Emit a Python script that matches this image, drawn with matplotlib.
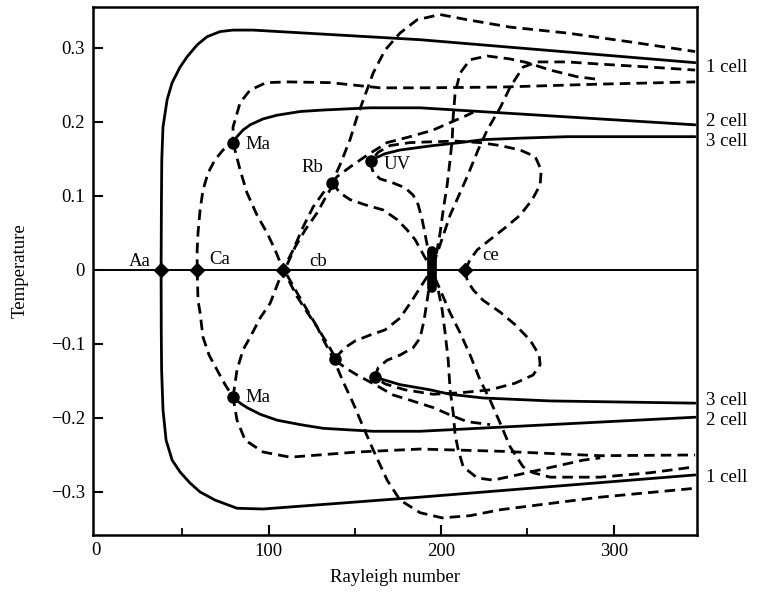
import matplotlib
matplotlib.use("Agg")
import matplotlib.pyplot as plt

plt.rcParams['font.family'] = ['Liberation Serif', 'DejaVu Serif']

# ---- solid branches (stable) ----
s1_top_x = [37.7, 37.9, 38.1, 38.8, 41.2, 44.1, 48.7, 52.8, 58.6, 64.3, 71.9, 79.4, 91.0, 187.8, 347.2]
s1_top_y = [0, 0.095, 0.149, 0.193, 0.230, 0.253, 0.274, 0.288, 0.304, 0.315, 0.322, 0.324, 0.324, 0.311, 0.280]
s1_bot_x = [37.7, 37.8, 38.0, 38.8, 40.6, 44.1, 48.7, 54.5, 60.3, 69.0, 81.7, 96.8, 187.8, 347.2]
s1_bot_y = [0, -0.081, -0.135, -0.189, -0.230, -0.257, -0.273, -0.288, -0.300, -0.311, -0.322, -0.323, -0.307, -0.277]

s2_top_x = [79.4, 81.7, 85.2, 89.3, 96.8, 104.9, 118.3, 131.6, 158.8, 187.8, 347.2]
s2_top_y = [0.172, 0.180, 0.189, 0.196, 0.204, 0.209, 0.214, 0.216, 0.219, 0.219, 0.196]
s2_bot_x = [79.4, 83.5, 87.5, 95.1, 104.9, 118.3, 131.6, 160.6, 187.8, 347.2]
s2_bot_y = [-0.172, -0.180, -0.186, -0.195, -0.203, -0.209, -0.214, -0.218, -0.218, -0.199]

s3_top_x = [160.0, 167.5, 176.2, 195.4, 211.0, 224.3, 245.8, 273.0, 347.2]
s3_top_y = [0.149, 0.157, 0.162, 0.168, 0.172, 0.176, 0.178, 0.180, 0.180]
s3_bot_x = [161.7, 170.4, 176.2, 193.6, 205.2, 224.3, 263.2, 347.2]
s3_bot_y = [-0.145, -0.151, -0.155, -0.162, -0.168, -0.173, -0.177, -0.180]

# ---- dashed branches (unstable) ----
d1_top_x = [58.6, 58.6, 59.1, 60.3, 62.0, 64.9, 69.0, 73.6, 79.4, 79.4, 83.5, 89.3, 98.6, 110.7, 135.7, 164.6, 187.8, 234.2, 292.2, 347.2]
d1_top_y = [0, 0.027, 0.050, 0.081, 0.108, 0.131, 0.149, 0.162, 0.172, 0.193, 0.226, 0.243, 0.253, 0.254, 0.253, 0.246, 0.246, 0.247, 0.251, 0.254]
d1_bot_x = [58.6, 59.1, 60.3, 62.0, 65.5, 70.1, 74.8, 79.4, 81.7, 86.4, 96.8, 112.5, 151.3, 187.8, 234.2, 292.2, 347.2]
d1_bot_y = [0, -0.041, -0.058, -0.091, -0.115, -0.135, -0.155, -0.172, -0.203, -0.230, -0.246, -0.253, -0.246, -0.242, -0.245, -0.251, -0.250]

d2_x = [79.4, 83.5, 87.5, 93.3, 99.1, 103.8, 108.4, 112.5, 116.5, 122.3, 128.1, 132.8, 137.4, 143.2, 149.0, 154.8, 160.6, 168.7, 176.2, 187.8, 200.6, 216.8, 234.2, 292.2, 347.2]
d2_y = [0.172, 0.135, 0.104, 0.074, 0.050, 0.027, 0, -0.018, -0.036, -0.057, -0.077, -0.099, -0.119, -0.151, -0.180, -0.212, -0.243, -0.284, -0.311, -0.328, -0.335, -0.332, -0.324, -0.307, -0.295]
d3_x = [79.4, 81.7, 85.2, 89.3, 95.1, 100.9, 108.4, 114.2, 120.0, 125.8, 131.6, 136.8, 141.4, 147.2, 151.3, 155.9, 160.6, 167.5, 176.2, 186.1, 199.4, 215.1, 240.0, 273.0, 309.6, 347.2]
d3_y = [-0.172, -0.135, -0.108, -0.091, -0.065, -0.045, 0, 0.027, 0.058, 0.085, 0.104, 0.118, 0.142, 0.176, 0.207, 0.236, 0.266, 0.297, 0.320, 0.338, 0.345, 0.338, 0.328, 0.320, 0.308, 0.295]

cb_rb_top_x = [110.7, 115.4, 121.2, 128.1, 132.8, 137.4]
cb_rb_top_y = [0.007, 0.031, 0.054, 0.077, 0.097, 0.115]
cb_rb_bot_x = [110.7, 116.5, 122.3, 128.1, 133.9, 138.6]
cb_rb_bot_y = [-0.007, -0.031, -0.054, -0.077, -0.099, -0.118]

rb_c_top_x = [136.8, 141.4, 147.2, 155.9, 166.4, 174.5, 180.3, 184.9, 188.9, 192.5, 194.8]
rb_c_top_y = [0.118, 0.104, 0.095, 0.088, 0.081, 0.068, 0.054, 0.041, 0.024, 0.009, 0]
rb_c_bot_x = [138.6, 144.3, 150.1, 158.8, 167.5, 176.2, 183.2, 188.9, 193.6]
rb_c_bot_y = [-0.119, -0.105, -0.096, -0.088, -0.081, -0.065, -0.041, -0.020, -0.003]

uv_c_top_x = [158.8, 160.6, 164.6, 171.6, 179.1, 183.8, 186.7, 189.0, 191.3, 193.0, 194.2]
uv_c_top_y = [0.146, 0.132, 0.123, 0.118, 0.111, 0.101, 0.088, 0.068, 0.041, 0.020, 0.003]
uv_c_bot_x = [161.7, 163.5, 168.7, 176.2, 183.8, 187.8, 190.1, 191.9, 193.6]
uv_c_bot_y = [-0.145, -0.132, -0.122, -0.115, -0.105, -0.092, -0.068, -0.041, -0.014]

rb_s2_top_x = [136.8, 139.7, 147.2, 157.1, 168.7, 182.0, 195.4, 205.2, 215.1, 218.6]
rb_s2_top_y = [0.118, 0.126, 0.139, 0.155, 0.172, 0.180, 0.189, 0.199, 0.209, 0.213]
rb_s2_bot_x = [138.6, 144.3, 151.3, 161.7, 172.2, 182.0, 195.4, 205.2, 215.1, 228.4]
rb_s2_bot_y = [-0.122, -0.132, -0.142, -0.155, -0.169, -0.176, -0.186, -0.196, -0.205, -0.209]

ce_top_x = [213.9, 216.8, 220.9, 228.4, 237.1, 245.8, 252.8, 257.4, 258.0, 254.5, 245.8, 234.2, 222.6, 208.1, 193.6, 182.0, 170.4, 163.5, 160.0]
ce_top_y = [0, 0.014, 0.027, 0.041, 0.057, 0.074, 0.095, 0.115, 0.135, 0.153, 0.162, 0.168, 0.172, 0.174, 0.173, 0.172, 0.168, 0.159, 0.149]
ce_bot_x = [213.9, 215.1, 218.6, 224.3, 234.2, 242.9, 251.6, 256.8, 257.4, 253.3, 242.9, 228.4, 211.0, 195.4, 179.1, 167.5, 161.7]
ce_bot_y = [0, -0.014, -0.027, -0.041, -0.057, -0.074, -0.095, -0.115, -0.128, -0.142, -0.153, -0.162, -0.166, -0.168, -0.162, -0.154, -0.145]

l1_top_x = [194.8, 197.7, 199.4, 201.2, 203.5, 205.2, 206.4, 207.0, 208.1, 211.0, 216.8, 226.7, 240.0, 249.9, 263.2, 278.8, 292.2]
l1_top_y = [0, 0.027, 0.050, 0.081, 0.115, 0.149, 0.176, 0.207, 0.239, 0.266, 0.284, 0.289, 0.285, 0.280, 0.270, 0.261, 0.257]
l1_bot_x = [195.4, 197.7, 200.6, 202.3, 204.1, 205.2, 207.0, 208.1, 209.9, 212.8, 220.9, 230.1, 244.1, 257.4, 282.3, 292.2]
l1_bot_y = [-0.007, -0.020, -0.054, -0.085, -0.122, -0.162, -0.193, -0.223, -0.243, -0.266, -0.281, -0.284, -0.277, -0.270, -0.257, -0.254]

l2_top_x = [195.4, 199.4, 205.2, 215.1, 221.4, 226.7, 234.2, 240.0, 247.5, 255.7, 273.0, 292.2, 321.2, 347.2]
l2_top_y = [0.007, 0.034, 0.074, 0.126, 0.162, 0.189, 0.219, 0.247, 0.274, 0.281, 0.281, 0.278, 0.274, 0.270]
l2_bot_x = [196.5, 205.2, 211.0, 216.8, 222.6, 228.4, 234.2, 240.0, 247.5, 253.3, 263.2, 292.2, 321.2, 347.2]
l2_bot_y = [-0.011, -0.058, -0.085, -0.115, -0.149, -0.176, -0.207, -0.239, -0.266, -0.274, -0.280, -0.280, -0.274, -0.266]

# ---- bifurcation points ----
diamond_x = [37.7, 58.6, 108.4, 213.9]
diamond_y = [0, 0, 0, 0]
dot_x = [79.4, 79.4, 136.8, 138.6, 159.4, 161.7]
dot_y = [0.172, -0.172, 0.118, -0.120, 0.147, -0.145]
cluster_x = [194.5, 194.5]
cluster_y = [-0.025, 0.025]

point_labels = ["Aa", "Ca", "cb", "ce", "Ma", "Ma", "Rb", "UV"]
label_x = [25.5, 71.9, 128.7, 228.4, 93.9, 93.9, 125.2, 174.5]
label_y = [0.011, 0.014, 0.011, 0.019, 0.170, -0.172, 0.138, 0.142]

cell_labels = ["1 cell", "2 cell", "3 cell", "3 cell", "2 cell", "1 cell"]
cell_y = [0.274, 0.201, 0.174, -0.177, -0.204, -0.281]

fig = plt.figure(figsize=(7.57, 5.95), dpi=100)
ax = fig.add_axes([0.123, 0.101, 0.798, 0.887])

lw = 2.0
solid = dict(color='black', lw=lw, solid_capstyle='round')
dash = dict(color='black', lw=lw, dashes=(3.8, 2.2))

ax.axhline(0, color='black', lw=1.4)
for xs, ys in [(s1_top_x, s1_top_y), (s1_bot_x, s1_bot_y), (s2_top_x, s2_top_y),
               (s2_bot_x, s2_bot_y), (s3_top_x, s3_top_y), (s3_bot_x, s3_bot_y)]:
    ax.plot(xs, ys, **solid)

for xs, ys in [(d1_top_x, d1_top_y), (d1_bot_x, d1_bot_y), (d2_x, d2_y), (d3_x, d3_y),
               (cb_rb_top_x, cb_rb_top_y), (cb_rb_bot_x, cb_rb_bot_y),
               (rb_c_top_x, rb_c_top_y), (rb_c_bot_x, rb_c_bot_y),
               (uv_c_top_x, uv_c_top_y), (uv_c_bot_x, uv_c_bot_y),
               (rb_s2_top_x, rb_s2_top_y), (rb_s2_bot_x, rb_s2_bot_y),
               (ce_top_x, ce_top_y), (ce_bot_x, ce_bot_y),
               (l1_top_x, l1_top_y), (l1_bot_x, l1_bot_y),
               (l2_top_x, l2_top_y), (l2_bot_x, l2_bot_y)]:
    ax.plot(xs, ys, **dash)

ax.plot(diamond_x, diamond_y, 'D', color='black', ms=7.5, zorder=5)
ax.plot(dot_x, dot_y, 'o', color='black', ms=8, zorder=5)
ax.plot(cluster_x, cluster_y, color='black', lw=7, solid_capstyle='round', zorder=5)

for t, x, y in zip(point_labels, label_x, label_y):
    ax.text(x, y, t, ha='center', va='center', fontsize=13.5)

for t, y in zip(cell_labels, cell_y):
    ax.text(1.015, y, t, transform=ax.get_yaxis_transform(), ha='left', va='center', fontsize=13.5)

ax.set_xlim(-1.7, 348.4)
ax.set_ylim(-0.358, 0.355)

ax.set_xticks([100, 200, 300])
ax.set_xticks([50, 150, 250], minor=True)
ax.set_yticks([0.3, 0.2, 0.1, 0, -0.1, -0.2, -0.3])
ax.set_yticklabels(["0.3", "0.2", "0.1", "0", "\u22120.1", "\u22120.2", "\u22120.3"])
ax.tick_params(axis='both', which='major', direction='in', length=7, width=1.5, labelsize=13.5, pad=6)
ax.tick_params(axis='x', which='minor', direction='in', length=5, width=1.3)
# the "0" at the origin has no tick mark in the original
ax.text(0, -0.368, "0", ha='center', va='top', fontsize=13.5, clip_on=False)
for sp in ax.spines.values():
    sp.set_linewidth(1.8)

ax.set_xlabel("Rayleigh number", fontsize=13.5, labelpad=6)
ax.set_ylabel("Temperature", fontsize=13.5, labelpad=16)

fig.savefig("out.png", dpi=100)
